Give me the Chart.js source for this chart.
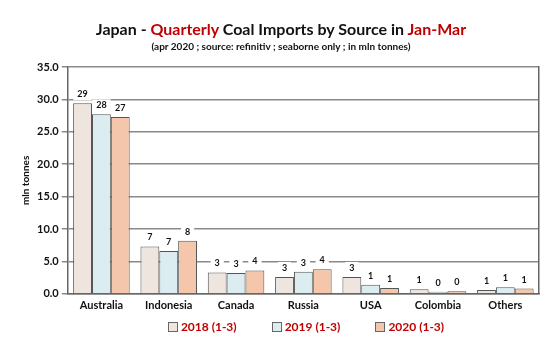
<!DOCTYPE html>
<html>
<head>
<meta charset="utf-8">
<script src="https://cdn.jsdelivr.net/npm/chart.js@4"></script>
<style>
  html, body { margin: 0; padding: 0; background: #fff; }
  #wrap { position: relative; width: 554px; height: 347px; font-family: Lato, "Open Sans", sans-serif; }
  #title { position: absolute; left: 4px; width: 554px; top: 19px; text-align: center; font-weight: bold; font-size: 16px; color: #111; }
  #title .red { color: #c00000; }
  #sub { position: absolute; left: 4px; width: 554px; top: 40px; text-align: center; font-weight: bold; font-size: 10px; color: #111; }
  #legend { position: absolute; left: 29px; width: 554px; top: 319px; text-align: center; font-weight: bold; font-size: 12px; color: #c00000; }
  #legend span.item { display: inline-block; margin: 0 17.5px; }
  #legend span.box { display: inline-block; width: 8px; height: 8px; border: 1px solid #666; margin-right: 3px; vertical-align: -1px; }
  canvas { position: absolute; left: 0; top: 0; }
</style>
</head>
<body>
<div id="wrap">
  <canvas id="chart" width="554" height="347"></canvas>
  <div id="title">Japan - <span class="red">Quarterly</span> Coal Imports by Source in <span class="red">Jan-Mar</span></div>
  <div id="sub">(apr 2020 ; source: refinitiv ; seaborne only ; in mln tonnes)</div>
  <div id="legend"></div>
</div>
<script>
const categories = ["Australia", "Indonesia", "Canada", "Russia", "USA", "Colombia", "Others"]
const seriesNames = ["2018 (1-3)", "2019 (1-3)", "2020 (1-3)"]
const values2018 = [29.4, 7.3, 3.3, 2.6, 2.6, 0.7, 0.6]
const values2019 = [27.7, 6.6, 3.2, 3.4, 1.4, 0.3, 1.0]
const values2020 = [27.3, 8.2, 3.6, 3.8, 0.9, 0.4, 0.8]
const yTicks = [0, 5, 10, 15, 20, 25, 30, 35]

const fills = ["#ede5de", "#dcedf1", "#f4c6ab"]
const font = "Lato, 'Open Sans', sans-serif"

// Rounded values above each bar, on a white patch that cuts the grid lines
const barLabels = {
  id: "barLabels",
  afterDatasetsDraw(chart) {
    const ctx = chart.ctx
    ctx.save()
    ctx.font = "bold 9px " + font
    ctx.textAlign = "center"
    ctx.textBaseline = "middle"
    chart.data.datasets.forEach((ds, i) => {
      chart.getDatasetMeta(i).data.forEach((bar, j) => {
        const text = String(Math.round(ds.data[j]))
        const y = bar.y - 9
        const w = ctx.measureText(text).width + 8
        ctx.fillStyle = "#fff"
        ctx.fillRect(bar.x - w / 2, y - 6, w, 12)
        ctx.fillStyle = "#111"
        ctx.fillText(text, bar.x, y)
      })
    })
    ctx.restore()
  },
}

const datasets = [values2018, values2019, values2020].map((data, i) => ({
  label: seriesNames[i],
  data: data,
  backgroundColor: fills[i],
  borderColor: "#555",
  borderWidth: 1,
  categoryPercentage: 0.84,
  barPercentage: 1.0,
}))

// legend built from the same series names and fills
document.getElementById("legend").innerHTML = seriesNames
  .map((s, i) => `<span class="item"><span class="box" style="background:${fills[i]}"></span>${s}</span>`)
  .join("")

new Chart(document.getElementById("chart"), {
  type: "bar",
  data: { labels: categories, datasets: datasets },
  plugins: [barLabels],
  options: {
    responsive: false,
    animation: false,
    layout: { padding: { top: 67, right: 15, left: 12, bottom: 30 } },
    plugins: {
      tooltip: { enabled: false },
      legend: { display: false },
    },
    scales: {
      x: {
        grid: { display: false, drawTicks: false },
        border: { color: "#666", width: 1.5 },
        ticks: { color: "#111", font: { family: font, size: 11, weight: "bold" }, padding: 5 },
      },
      y: {
        min: 0,
        max: 35,
        afterBuildTicks: (axis) => { axis.ticks = yTicks.map((v) => ({ value: v })) },
        grid: { color: "#8a8a8a", lineWidth: 1.5, tickLength: 6 },
        border: { color: "#666", width: 1.5 },
        ticks: {
          color: "#111",
          font: { family: font, size: 11, weight: "bold" },
          callback: (v) => v.toFixed(1),
        },
        title: {
          display: true,
          text: "mln tonnes",
          color: "#111",
          font: { family: font, size: 10, weight: "bold" },
          padding: { top: 8, bottom: 2 },
        },
      },
      y2: {
        position: "right",
        min: 0,
        max: 35,
        grid: { drawOnChartArea: false, drawTicks: false },
        border: { color: "#666", width: 1.5 },
        ticks: { display: false },
      },
    },
  },
})
</script>
</body>
</html>
